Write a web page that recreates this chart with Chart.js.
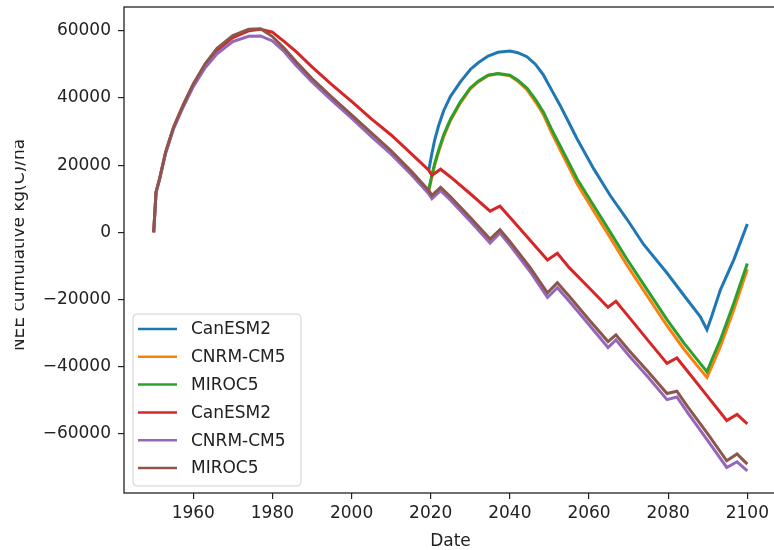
<!DOCTYPE html>
<html>
<head>
<meta charset="utf-8">
<script src="https://cdn.jsdelivr.net/npm/chart.js@4.4.0/dist/chart.umd.min.js"></script>
<style>
  html, body { margin: 0; padding: 0; background: #fff; overflow: hidden; }
  #wrap { width: 774px; height: 550px; overflow: hidden; }
</style>
</head>
<body>
<div id="wrap"><canvas id="grafico" width="790" height="550"></canvas></div>
<script>
// Séries (NEE acumulado, kg(C)/ha)
const legendas = ['CanESM2', 'CNRM-CM5', 'MIROC5', 'CanESM2', 'CNRM-CM5', 'MIROC5'];
const cores = ['#1f77b4', '#ff7f0e', '#2ca02c', '#d62728', '#9467bd', '#8c564b'];

// anos dos cenários (a partir de 2019)
const anosCenario = [2019.5, 2020.3, 2021, 2022, 2023.3, 2025, 2027.5, 2030, 2032, 2034.5, 2037, 2040,
  2042, 2044.3, 2046.5, 2048.5, 2050.5, 2052.7, 2055, 2057, 2061.2, 2065.4, 2069.6, 2073.8,
  2079.7, 2084, 2088.1, 2089.8, 2091, 2093.2, 2096.6, 2100];

const canesm2A = [18500, 23500, 27500, 31800, 36300, 40500, 44800, 48500, 50500, 52500, 53600, 54000,
  53500, 52300, 50000, 46800, 42500, 37800, 32500, 27800, 18900, 10900, 3900, -3600,
  -12100, -18800, -25100, -29000, -25000, -17100, -8100, 2500];
const cnrmA = [12300, 16500, 20000, 24000, 28600, 33300, 38500, 42700, 44800, 46700, 47200, 46600,
  45000, 42500, 38800, 35000, 29800, 24600, 19200, 14500, 6300, -1700, -9800, -17300,
  -27800, -34800, -40800, -43200, -40000, -34000, -23000, -11000];
const mirocA = [12800, 17000, 20500, 24500, 29100, 33700, 38900, 43000, 45000, 46800, 47300, 46800,
  45300, 43000, 39500, 35800, 30800, 25800, 20500, 15900, 7900, 0, -8000, -15500,
  -26000, -33000, -39000, -41500, -38000, -32000, -21000, -9300];

// anos das séries completas (1950-2100)
const anosTotal = [1950, 1950.6, 1951.5, 1953, 1955, 1957.5, 1960, 1963, 1966, 1970, 1974, 1977,
  1980, 1983, 1986, 1990, 1995, 2000, 2005, 2010, 2015, 2019.5, 2020.3, 2022.5, 2025, 2030,
  2035, 2037.5, 2040, 2045, 2049.5, 2052, 2055, 2060, 2064.8, 2066.8, 2070, 2075, 2079.7,
  2082.2, 2085, 2090, 2094.8, 2097.4, 2100];

const canesm2B = [0, 12000, 16000, 23800, 31200, 38000, 44000, 49800, 54200, 58000, 60000, 60500,
  59600, 56800, 53800, 49300, 44000, 39000, 33800, 29000, 23500, 18500, 17000, 18800, 16500, 11500,
  6300, 7800, 4500, -2200, -8200, -6200, -10500, -16500, -22300, -20500, -25100, -32300, -39000,
  -37400, -41500, -48900, -56000, -54200, -57000];
const cnrmB = [0, 12000, 15800, 23500, 30800, 37400, 43400, 49000, 53200, 56800, 58400, 58500,
  57000, 53800, 49700, 44800, 39300, 34000, 28500, 23300, 17300, 11500, 10000, 12400, 9600, 3300,
  -3200, -200, -3800, -11500, -19400, -16500, -20500, -27500, -34300, -32000, -36600, -43200, -49800,
  -49000, -53800, -62000, -70000, -68300, -71000];
const mirocB = [0, 12000, 16000, 23800, 31200, 38000, 44200, 50200, 54800, 58600, 60500, 60600,
  58300, 54800, 50800, 45800, 40300, 35000, 29600, 24300, 18300, 12500, 11000, 13400, 10600, 4400,
  -2000, 800, -2700, -10300, -18000, -15000, -19000, -26000, -32500, -30500, -35000, -41600, -48000,
  -47300, -52000, -60000, -68000, -66000, -69000];

const ticksX = [1960, 1980, 2000, 2020, 2040, 2060, 2080, 2100];
const ticksY = [-60000, -40000, -20000, 0, 20000, 40000, 60000];

const FONTE = '"DejaVu Sans", sans-serif';

function pontos(anos, valores) {
  return anos.map((a, i) => ({ x: a, y: valores[i] }));
}

const series = [
  pontos(anosCenario, canesm2A),
  pontos(anosCenario, cnrmA),
  pontos(anosCenario, mirocA),
  pontos(anosTotal, canesm2B),
  pontos(anosTotal, cnrmB),
  pontos(anosTotal, mirocB)
];

// sem margens extra nas escalas
function semPadding(s) {
  s.paddingTop = 0;
  s.paddingBottom = 0;
  s.paddingLeft = 0;
  s.paddingRight = 0;
}

// moldura do gráfico (lado direito fica fora da janela)
const moldura = {
  id: 'moldura',
  afterDraw(chart) {
    const { ctx, chartArea: a } = chart;
    ctx.save();
    ctx.strokeStyle = '#222';
    ctx.lineWidth = 1.3;
    ctx.strokeRect(a.left, a.top, a.right - a.left, a.bottom - a.top);
    ctx.restore();
  }
};

// título do eixo y (cortado à esquerda como no original)
const tituloY = {
  id: 'tituloY',
  afterDraw(chart) {
    const ctx = chart.ctx;
    ctx.save();
    ctx.beginPath();
    ctx.rect(15, 0, 200, 550);
    ctx.clip();
    ctx.translate(24, 245);
    ctx.rotate(-Math.PI / 2);
    ctx.font = '17px ' + FONTE;
    ctx.fillStyle = '#222';
    ctx.textAlign = 'center';
    ctx.textBaseline = 'alphabetic';
    ctx.fillText('NEE cumulative kg(C)/ha', 0, 0);
    ctx.restore();
  }
};

// legenda dentro da área do gráfico
const legendaInterna = {
  id: 'legendaInterna',
  afterDatasetsDraw(chart) {
    const ctx = chart.ctx;
    const x = 133, y = 314, w = 168, h = 172, r = 4;
    ctx.save();
    ctx.beginPath();
    ctx.roundRect(x, y, w, h, r);
    ctx.fillStyle = 'rgba(255,255,255,0.85)';
    ctx.fill();
    ctx.strokeStyle = '#d0d0d0';
    ctx.lineWidth = 1;
    ctx.stroke();
    ctx.font = '17px ' + FONTE;
    ctx.textBaseline = 'middle';
    ctx.textAlign = 'left';
    chart.data.datasets.forEach((ds, i) => {
      const cy = 329 + i * 27.8;
      ctx.strokeStyle = ds.borderColor;
      ctx.lineWidth = 2.5;
      ctx.beginPath();
      ctx.moveTo(138, cy);
      ctx.lineTo(177, cy);
      ctx.stroke();
      ctx.fillStyle = '#222';
      ctx.fillText(ds.label, 191, cy + 1);
    });
    ctx.restore();
  }
};

const ctx = document.getElementById('grafico').getContext('2d');
new Chart(ctx, {
  type: 'line',
  data: {
    datasets: series.map((dados, i) => ({
      label: legendas[i],
      data: dados,
      borderColor: cores[i],
      backgroundColor: cores[i],
      borderWidth: 3,
      pointRadius: 0,
      tension: 0,
      fill: false,
      order: series.length - i
    }))
  },
  options: {
    responsive: false,
    animation: false,
    devicePixelRatio: 1,
    layout: { padding: { top: 7, right: 13, left: 0, bottom: 0 }, autoPadding: false },
    plugins: {
      legend: { display: false },
      tooltip: { enabled: false }
    },
    scales: {
      x: {
        type: 'linear',
        min: 1942.5,
        max: 2107.5,
        afterBuildTicks: s => { s.ticks = ticksX.map(v => ({ value: v })); },
        afterFit: s => { s.height = 57; semPadding(s); },
        grid: { drawOnChartArea: false, drawTicks: true, tickLength: 6, color: '#222', lineWidth: 1.2 },
        border: { display: false },
        ticks: {
          color: '#222',
          font: { family: FONTE, size: 17 },
          padding: 4,
          maxRotation: 0,
          autoSkip: false,
          callback: v => String(v)
        },
        title: {
          display: true,
          text: 'Date',
          color: '#222',
          font: { family: FONTE, size: 17, lineHeight: 1 },
          padding: { top: 0, bottom: 0 }
        }
      },
      y: {
        type: 'linear',
        min: -77600,
        max: 67100,
        afterBuildTicks: s => { s.ticks = ticksY.map(v => ({ value: v })); },
        afterFit: s => { s.width = 124; semPadding(s); },
        grid: { drawOnChartArea: false, drawTicks: true, tickLength: 6, color: '#222', lineWidth: 1.2 },
        border: { display: false },
        ticks: {
          color: '#222',
          font: { family: FONTE, size: 17 },
          padding: 7,
          autoSkip: false,
          callback: v => (v < 0 ? '\u2212' + Math.abs(v) : String(v))
        }
      }
    }
  },
  plugins: [moldura, tituloY, legendaInterna]
});
</script>
</body>
</html>
